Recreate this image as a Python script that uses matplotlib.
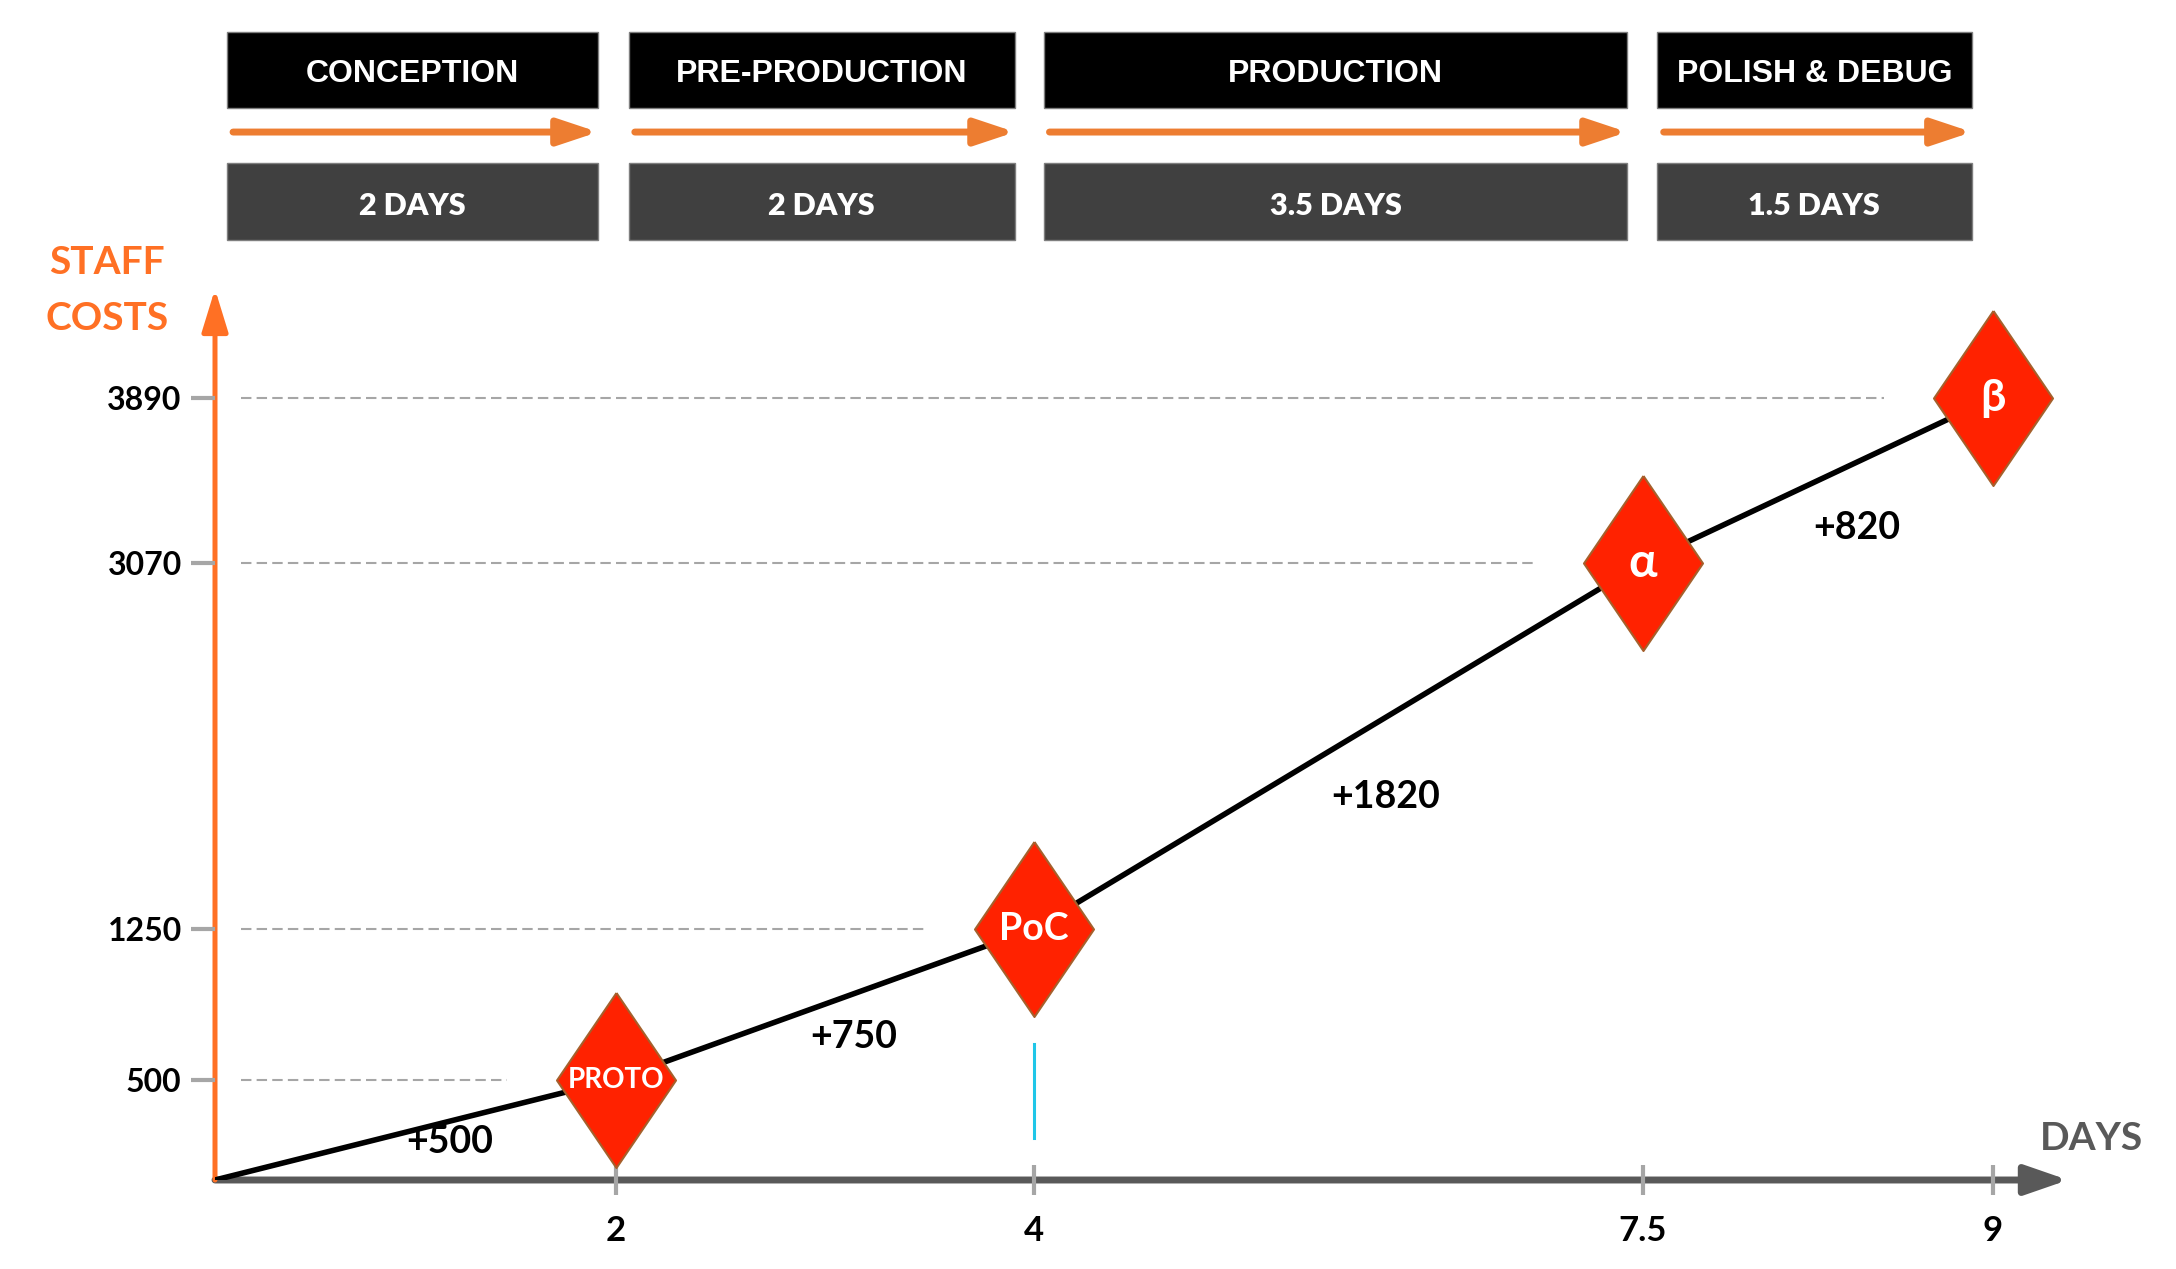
import numpy as np
import matplotlib

matplotlib.use("Agg")
import matplotlib.pyplot as plt
from matplotlib.patches import Rectangle

plt.rcParams["font.family"] = ["Lato", "DejaVu Sans"]

# --- data ---
PHASES = ["CONCEPTION", "PRE-PRODUCTION", "PRODUCTION", "POLISH & DEBUG"]
PHASE_DAYS = [2, 2, 3.5, 1.5]
MILESTONE_DAYS = [0, 2, 4, 7.5, 9]
MILESTONE_COSTS = [0, 500, 1250, 3070, 3890]
MILESTONE_LABELS = ["", "PROTO", "PoC", "α", "β"]
X_TICKS = [2, 4, 7.5, 9]
Y_TICKS = [500, 1250, 3070, 3890]

# the day axis on the slide is spaced unevenly; mimic it with a piecewise scale
_DAY_KNOTS = [-5, 0, 2, 4, 7.5, 9, 15]
_VIS_KNOTS = [-5, 0, 2.03, 4.145, 7.227, 9.0, 15]


def _fwd(x):
    return np.interp(x, _DAY_KNOTS, _VIS_KNOTS)


def _inv(v):
    return np.interp(v, _VIS_KNOTS, _DAY_KNOTS)


ORANGE_AXIS = "#FF7024"
ORANGE_ARROW = "#ED7D31"
GRAY_TICK = "#A6A6A6"
DIAMOND_RED = "#FF2200"

W, H = 2176, 1269
fig = plt.figure(figsize=(W / 100, H / 100), dpi=100)
fig.patch.set_facecolor("white")

ax = fig.add_axes([215 / W, (H - 1180) / H, (2068 - 215) / W, (1180 - 289) / H])
ax.set_xscale("function", functions=(_fwd, _inv))
ax.set_xlim(0, 9.38)
ax.set_ylim(0, 4433)
for s in ax.spines.values():
    s.set_visible(False)

ax.set_xticks(X_TICKS)
ax.set_xticklabels([f"{d:g}" for d in X_TICKS])
ax.set_yticks(Y_TICKS)
ax.minorticks_off()
ax.tick_params(axis="x", direction="inout", length=22, width=3, color=GRAY_TICK,
               pad=14, labelsize=25)
ax.tick_params(axis="y", direction="out", length=17, width=3, color=GRAY_TICK,
               pad=7, labelsize=23)
for lab in ax.get_xticklabels() + ax.get_yticklabels():
    lab.set_fontweight("bold")
ax.set_axisbelow(False)

# axis arrows
ax.annotate("", xy=(9.38, 0), xytext=(0, 0), annotation_clip=False, zorder=2,
            arrowprops=dict(arrowstyle="-|>,head_length=1.3,head_width=0.45",
                            mutation_scale=20, lw=5, color="#595959",
                            shrinkA=0, shrinkB=0))
ax.annotate("", xy=(0, 4433), xytext=(0, 0), annotation_clip=False, zorder=2,
            arrowprops=dict(arrowstyle="-|>,head_length=1.3,head_width=0.4",
                            mutation_scale=20, lw=3.6, color=ORANGE_AXIS,
                            shrinkA=0, shrinkB=0))

# dashed guides from the cost axis towards each milestone
for d, c in zip(MILESTONE_DAYS[1:], MILESTONE_COSTS[1:]):
    end = _inv(_fwd(d) - 0.55)
    ax.plot([0.13, end], [c, c], color=GRAY_TICK, lw=1.5, ls=(0, (5, 2.5)), zorder=1)

# cost curve
ax.plot(MILESTONE_DAYS, MILESTONE_COSTS, color="black", lw=4, zorder=4,
        solid_capstyle="round")

# step labels
steps = np.diff(MILESTONE_COSTS)
step_offsets = [(25, -9), (21, -24), (34, -37), (28, -34)]
for i, (st, off) in enumerate(zip(steps, step_offsets)):
    xm = _inv((_fwd(MILESTONE_DAYS[i]) + _fwd(MILESTONE_DAYS[i + 1])) / 2)
    ym = (MILESTONE_COSTS[i] + MILESTONE_COSTS[i + 1]) / 2
    ax.annotate(f"+{st}", xy=(xm, ym), xytext=off, textcoords="offset points",
                ha="center", va="center", fontsize=27, fontweight="bold", zorder=6)

# milestone diamonds
DIAMOND = [(0, 1), (0.68, 0), (0, -1), (-0.68, 0), (0, 1)]
ax.plot(MILESTONE_DAYS[1:], MILESTONE_COSTS[1:], ls="none", marker=DIAMOND,
        markersize=126, mfc=DIAMOND_RED, mec="#A5602C", mew=1.5, zorder=5,
        clip_on=False)
label_sizes = [20, 27, 34, 32]
for d, c, lab, fs in zip(MILESTONE_DAYS[1:], MILESTONE_COSTS[1:],
                         MILESTONE_LABELS[1:], label_sizes):
    ax.text(d, c, lab, ha="center", va="center", color="white", fontsize=fs,
            fontweight="bold", zorder=6)

# stray cursor mark under PoC, as on the slide
ax.plot([4, 4], [209, 677], color="#1FC6E8", lw=2.2, zorder=3)

# phase header
hax = fig.add_axes([215 / W, (H - 240) / H, (2068 - 215) / W, (240 - 32) / H], sharex=ax)
hax.set_ylim(0, 1)
hax.axis("off")
starts = np.concatenate([[0], np.cumsum(PHASE_DAYS)[:-1]])
for name, start, dur in zip(PHASES, starts, PHASE_DAYS):
    x0, x1 = start + 0.06, start + dur - 0.09
    hax.add_patch(Rectangle((x0, 0.635), x1 - x0, 0.365, fc="black", ec="#7F7F7F",
                            lw=1, clip_on=False))
    hax.add_patch(Rectangle((x0, 0.0), x1 - x0, 0.37, fc="#404040", ec="#7F7F7F",
                            lw=1, clip_on=False))
    hax.annotate("", xy=(x1, 0.519), xytext=(x0 + 0.03, 0.519), annotation_clip=False,
                 arrowprops=dict(arrowstyle="-|>,head_length=1.2,head_width=0.4",
                                 mutation_scale=20, lw=5, color=ORANGE_ARROW,
                                 shrinkA=0, shrinkB=0))
    xm = _inv((_fwd(x0) + _fwd(x1)) / 2)
    hax.text(xm, 0.80, name, ha="center", va="center", color="white", fontsize=23,
             fontweight="bold", family=["Liberation Sans", "DejaVu Sans"])
    hax.text(xm, 0.165, f"{dur:g} DAYS", ha="center", va="center", color="white",
             fontsize=22, fontweight="heavy")

# axis titles
fig.text(107 / W, 1 - 262 / H, "STAFF", ha="center", va="center", color=ORANGE_AXIS,
         fontsize=28, fontweight="bold")
fig.text(107 / W, 1 - 319 / H, "COSTS", ha="center", va="center", color=ORANGE_AXIS,
         fontsize=28, fontweight="bold")
fig.text(2091 / W, 1 - 1138 / H, "DAYS", ha="center", va="center", color="#595959",
         fontsize=28, fontweight="bold")

fig.savefig("out.png", dpi=100, facecolor="white")
plt.close(fig)
